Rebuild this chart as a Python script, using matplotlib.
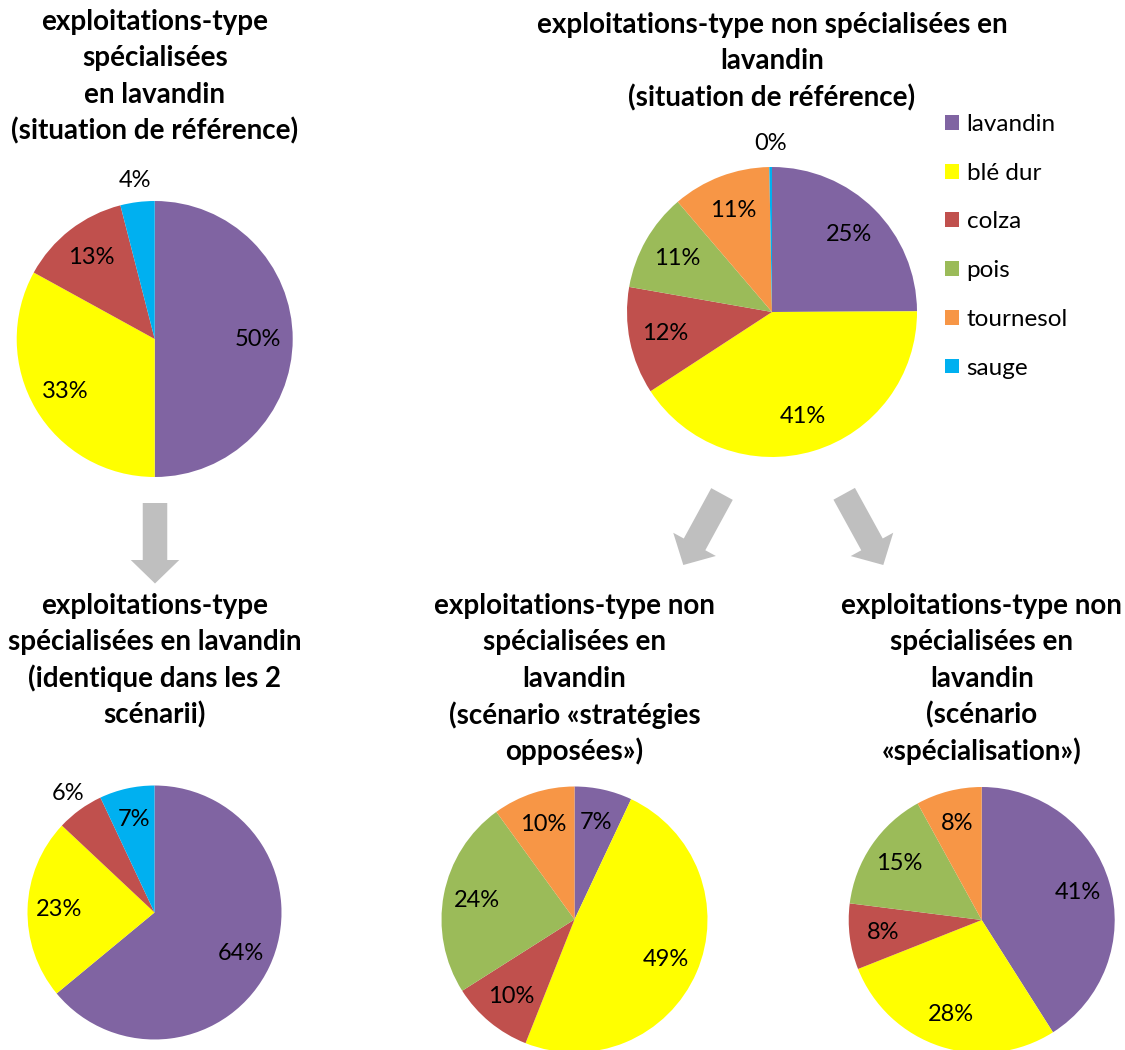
import numpy as np
import matplotlib
matplotlib.use("Agg")
import matplotlib.pyplot as plt
from matplotlib.patches import FancyArrow

# ---------------- data ----------------
categories = ["lavandin", "blé dur", "colza", "pois", "tournesol", "sauge"]
colors = ["#8064A2", "#FFFF00", "#C0504D", "#9BBB59", "#F79646", "#00B0F0"]

spec_reference = [50, 33, 13, 0, 0, 4]
nonspec_reference = [25, 41, 12, 11, 11, 0.3]
spec_scenarios = [64, 23, 6, 0, 0, 7]
nonspec_opposees = [7, 49, 10, 24, 10, 0]
nonspec_specialisation = [41, 28, 8, 15, 8, 0]

titles = [
    "exploitations-type\nspécialisées\nen lavandin\n(situation de référence)",
    "exploitations-type non spécialisées en\nlavandin\n(situation de référence)",
    "exploitations-type\nspécialisées en lavandin\n(identique dans les 2\nscénarii)",
    "exploitations-type non\nspécialisées en\nlavandin\n(scénario «stratégies\nopposées»)",
    "exploitations-type non\nspécialisées en\nlavandin\n(scénario\n«spécialisation»)",
]

# ---------------- layout ----------------
W, H = 1125, 1050
FONT = "Lato"
plt.rcParams["font.family"] = [FONT, "DejaVu Sans"]

fig = plt.figure(figsize=(W / 100, H / 100), dpi=100)
ax = fig.add_axes([0, 0, 1, 1])

def Y(y):
    return H - y

# (values, center x, center y (pixels from top), radius, title, title first line y)
pies = [
    (spec_reference, 154.7, 339, 138, titles[0], 22),
    (nonspec_reference, 772, 312, 145, titles[1], 25),
    (spec_scenarios, 154.5, 912.5, 127, titles[2], 606),
    (nonspec_opposees, 574.5, 919.5, 133, titles[3], 606),
    (nonspec_specialisation, 981.7, 920, 133, titles[4], 606),
]

LINE = 36.3
legend_wedges = None
for vals, cx, cy, r, title, ty in pies:
    wedges, _ = ax.pie(vals, colors=colors, startangle=90, counterclock=False,
                       center=(cx, Y(cy)), radius=r, frame=True,
                       wedgeprops=dict(linewidth=0))
    for w, v in zip(wedges, vals):
        if v <= 0:
            continue
        ang = np.deg2rad((w.theta1 + w.theta2) / 2)
        d = 1.16 if v <= 6 else 0.75
        ax.text(cx + d * r * np.cos(ang), Y(cy) + d * r * np.sin(ang),
                f"{round(v)}%", ha="center", va="center", fontsize=17,
                color="black")
    if vals is nonspec_reference:
        legend_wedges = wedges
    for i, line in enumerate(title.split("\n")):
        ax.text(cx, Y(ty + i * LINE), line, ha="center", va="center",
                fontsize=20, fontweight="bold", color="black")

ax.set_xlim(0, W)
ax.set_ylim(0, H)
ax.set_aspect("equal")
ax.axis("off")

# legend
leg = ax.legend(legend_wedges, categories, loc="upper left",
                bbox_to_anchor=(945 / W, 1 - 114 / H), bbox_transform=fig.transFigure,
                frameon=False, fontsize=17.5, handlelength=0.59, handleheight=0.56,
                handletextpad=0.3, labelspacing=1.14, borderpad=0, borderaxespad=0)

# arrows
grey = "#BFBFBF"
arrows = [((155, 503), (155, 583.5)),
          ((722, 494), (683.3, 565)),
          ((844.2, 493.8), (883.3, 565))]
for (x0, y0), (x1, y1) in arrows:
    ax.add_patch(FancyArrow(x0, Y(y0), x1 - x0, Y(y1) - Y(y0), width=24.5,
                            head_width=48.5, head_length=23.5,
                            length_includes_head=True, color=grey, linewidth=0))

fig.savefig("out.png", dpi=100, facecolor="white")
